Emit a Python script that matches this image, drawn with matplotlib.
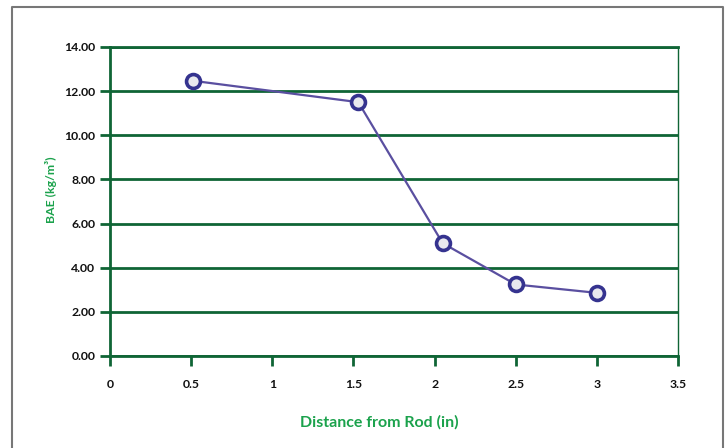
import matplotlib
matplotlib.use('Agg')
import matplotlib.pyplot as plt
from matplotlib.lines import Line2D
from matplotlib.ticker import FormatStrFormatter

# data
distance = [0.51, 1.53, 2.05, 2.50, 3.00]
bae = [12.47, 11.50, 5.11, 3.24, 2.86]

x_ticks = [0, 0.5, 1, 1.5, 2, 2.5, 3, 3.5]
x_tick_labels = ['0', '0.5', '1', '1.5', '2', '2.5', '3', '3.5']
y_ticks = [0, 2, 4, 6, 8, 10, 12, 14]

GREEN = '#0f6535'
LABEL_GREEN = '#1ba24c'

plt.rcParams['font.family'] = ['Lato', 'DejaVu Sans']

fig = plt.figure(figsize=(7.28, 4.48), dpi=100)
ax = fig.add_axes([0.1511, 0.2054, 0.7802, 0.6897])

# grey frame around the chart
frame = Line2D([0.0165, 0.0165, 0.9935, 0.9935], [-0.1, 0.9845, 0.9845, -0.1],
               transform=fig.transFigure, color='#777777', lw=1.5)
fig.add_artist(frame)

ax.plot(distance, bae, color='#5a4fa0', lw=1.6, marker='o', markersize=10,
        markerfacecolor='#e9e9ee', markeredgecolor='#35338f', markeredgewidth=2.6,
        zorder=5, clip_on=False)

ax.set_xlim(0, 3.5)
ax.set_ylim(0, 14)
ax.set_xticks(x_ticks)
ax.set_xticklabels(x_tick_labels)
ax.set_yticks(y_ticks)
ax.yaxis.set_major_formatter(FormatStrFormatter('%.2f'))

ax.grid(axis='y', color=GREEN, lw=2.0)
ax.set_axisbelow(True)
for side in ['left', 'top', 'bottom']:
    ax.spines[side].set_color(GREEN)
    ax.spines[side].set_linewidth(2.0)
ax.spines['right'].set_color(GREEN)
ax.spines['right'].set_linewidth(1.0)

ax.tick_params(axis='both', direction='out', length=7.5, width=2.0, color=GREEN,
               labelsize=8.8, labelcolor='#111111')
ax.tick_params(axis='x', pad=9)
ax.tick_params(axis='y', pad=3)
for lbl in ax.get_xticklabels() + ax.get_yticklabels():
    lbl.set_fontweight('bold')

ax.set_ylabel('BAE (kg/m³)', color=LABEL_GREEN, fontsize=8.8, fontweight='bold')
ax.yaxis.set_label_coords(-0.094, 0.537)
ax.set_xlabel('Distance from Rod (in)', color=LABEL_GREEN, fontsize=11.5, fontweight='bold')
ax.xaxis.set_label_coords(0.475, -0.192)

fig.savefig('out.png', dpi=100)
